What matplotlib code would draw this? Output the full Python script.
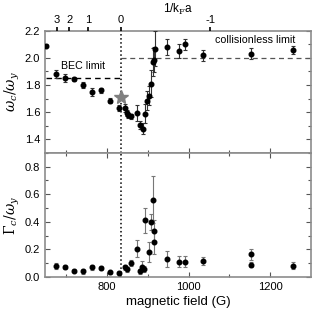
import numpy as np
import matplotlib.pyplot as plt

plt.rcParams['font.family'] = ['Liberation Sans', 'DejaVu Sans']
plt.rcParams['mathtext.fontset'] = 'dejavuserif'

# frequencia (omega_c / omega_y)
B_freq = [651, 675, 698, 719, 741, 763, 784, 807, 829, 844, 848, 852, 859, 873, 881, 889,
          893, 897, 903, 909, 913, 916, 917, 947, 977, 991, 1036, 1154, 1255]
freq = [2.09, 1.88, 1.85, 1.845, 1.80, 1.75, 1.76, 1.685, 1.632, 1.632, 1.595, 1.577, 1.570,
        1.595, 1.504, 1.477, 1.59, 1.685, 1.72, 1.81, 1.97, 1.987, 2.067, 2.08, 2.05, 2.10,
        2.02, 2.03, 2.06]
freq_err = [0.0, 0.03, 0.03, 0.015, 0.02, 0.03, 0.02, 0.02, 0.02, 0.03, 0.02, 0.02, 0.02,
            0.06, 0.03, 0.04, 0.07, 0.07, 0.07, 0.1, 0.1, 0.09, 0.13, 0.06, 0.05, 0.04,
            0.04, 0.04, 0.03]

# amortecimento (Gamma_c / omega_y)
B_damp = [675, 698, 719, 741, 763, 784, 807, 829, 844, 848, 859, 873, 881, 887, 891, 894,
          903, 909, 913, 914, 916, 947, 977, 992, 1036, 1154, 1154, 1255]
damp = [0.08, 0.07, 0.045, 0.04, 0.07, 0.065, 0.035, 0.03, 0.07, 0.055, 0.10, 0.205, 0.04,
        0.075, 0.058, 0.41, 0.18, 0.40, 0.56, 0.33, 0.25, 0.13, 0.11, 0.11, 0.115, 0.165,
        0.09, 0.082]
damp_err = [0.02, 0.015, 0.01, 0.015, 0.02, 0.015, 0.01, 0.01, 0.02, 0.02, 0.02, 0.06, 0.02,
            0.04, 0.02, 0.09, 0.07, 0.06, 0.17, 0.08, 0.08, 0.06, 0.04, 0.04, 0.03, 0.04,
            0.02, 0.025]

# eixo superior 1/kFa
kfa_labels = ['3', '2', '1', '0', '-1']
kfa_B = [677, 707, 753, 834, 1053]

B_res = 834
bec_limit = 1.85
coll_limit = 2.0
star_B, star_val = 834, 1.71

fig = plt.figure(figsize=(3.15, 3.14), dpi=100)
ax1 = fig.add_axes([0.143, 0.513, 0.844, 0.389])
ax2 = fig.add_axes([0.143, 0.118, 0.844, 0.395])

cinza = '#8c8c8c'

ax1.errorbar(B_freq, freq, yerr=freq_err, fmt='o', color='k', ms=3.3, ecolor='#333333',
             elinewidth=0.8, capsize=1.5, capthick=0.8, zorder=3)
ax1.plot([650, B_res], [bec_limit, bec_limit], 'k--', lw=1.0, dashes=(4, 3))
ax1.plot([B_res, 1300], [coll_limit, coll_limit], '--', color='#555555', lw=0.9, dashes=(4, 3))
ax1.plot(star_B, star_val, marker='*', color='#808080', ms=10, zorder=4)
ax1.text(686, 1.94, 'BEC limit', fontsize=7.7, va='center')
ax1.text(1263, 2.135, 'collisionless limit', fontsize=7.7, va='center', ha='right')

ax2.errorbar(B_damp, damp, yerr=damp_err, fmt='o', color='k', ms=3.3, ecolor='#777777',
             elinewidth=0.8, capsize=1.5, capthick=0.8, zorder=3)

for ax in (ax1, ax2):
    ax.axvline(B_res, color='k', ls=':', lw=1.1)
    ax.set_xlim(648, 1300)
    ax.set_xticks([800, 1000, 1200])
    ax.set_xticks([700, 900, 1100], minor=True)
    for s in ax.spines.values():
        s.set_color(cinza)
        s.set_linewidth(1.2)
    ax.tick_params(which='both', direction='in', top=True, right=True, color='#555555',
                   labelsize=8, width=0.8)
    ax.tick_params(which='major', length=3.5)
    ax.tick_params(which='minor', length=2)

ax1.set_ylim(1.3, 2.2)
ax1.set_yticks([1.4, 1.6, 1.8, 2.0, 2.2])
ax1.set_yticks(np.arange(1.3, 2.21, 0.1), minor=True)
ax1.tick_params(labelbottom=False, top=False)
ax1.set_ylabel(r'$\omega_c/\omega_y$', fontsize=10, labelpad=2)

ax2.set_ylim(0, 0.9)
ax2.set_yticks([0.0, 0.2, 0.4, 0.6, 0.8])
ax2.set_yticks(np.arange(0, 0.91, 0.1), minor=True)
ax2.set_yticklabels(['0.0', '0.2', '0.4', '0.6', '0.8'])
ax2.set_ylabel(r'$\Gamma_c/\omega_y$', fontsize=10, labelpad=2)
ax2.set_xlabel('magnetic field (G)', fontsize=9.5, labelpad=3)

ax3 = ax1.twiny()
ax3.set_xlim(ax1.get_xlim())
ax3.set_xticks(kfa_B)
ax3.set_xticklabels(kfa_labels)
ax3.tick_params(direction='out', length=3, width=1.2, color='k', labelsize=8, pad=1)
ax3.set_xlabel(r'1/k$_\mathrm{F}$a', fontsize=8.5, labelpad=2)
for s in ax3.spines.values():
    s.set_visible(False)

fig.savefig('out.png', dpi=100)
